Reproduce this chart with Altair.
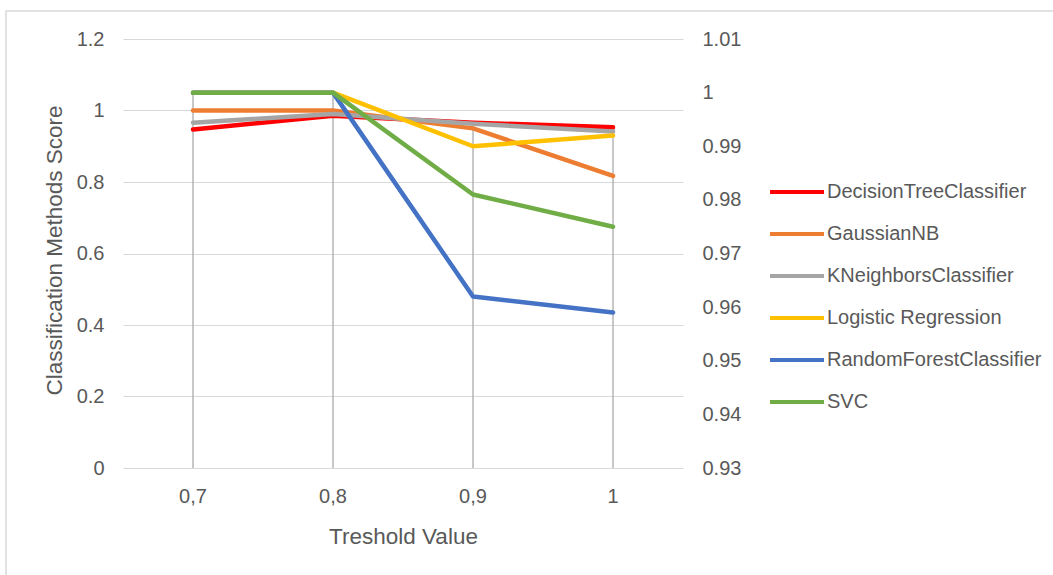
import altair as alt
import pandas as pd

# Threshold categories on the x axis
thresholds = ["0,7", "0,8", "0,9", "1"]

# Series plotted against the left (primary) axis
decision_tree = [0.947, 0.985, 0.966, 0.953]
gaussian_nb = [1.0, 1.0, 0.950, 0.817]
k_neighbors = [0.966, 0.990, 0.963, 0.941]

# Series plotted against the right (secondary) axis
logistic_regression = [1.0, 1.0, 0.990, 0.992]
random_forest = [1.0, 1.0, 0.962, 0.959]
svc = [1.0, 1.0, 0.981, 0.975]

series_names = [
    "DecisionTreeClassifier",
    "GaussianNB",
    "KNeighborsClassifier",
    "Logistic Regression",
    "RandomForestClassifier",
    "SVC",
]
series_colors = ["#FF0000", "#ED7D31", "#A5A5A5", "#FFC000", "#4472C4", "#70AD47"]

left_ticks = [0, 0.2, 0.4, 0.6, 0.8, 1.0, 1.2]
right_ticks = [0.93, 0.94, 0.95, 0.96, 0.97, 0.98, 0.99, 1.0, 1.01]

primary = {
    "DecisionTreeClassifier": decision_tree,
    "GaussianNB": gaussian_nb,
    "KNeighborsClassifier": k_neighbors,
}
secondary = {
    "Logistic Regression": logistic_regression,
    "RandomForestClassifier": random_forest,
    "SVC": svc,
}


def long_frame(series):
    rows = []
    for name, vals in series.items():
        for i, (t, v) in enumerate(zip(thresholds, vals)):
            rows.append({"threshold": t, "series": name, "value": v, "order": i})
    return pd.DataFrame(rows)


df_primary = long_frame(primary)
df_secondary = long_frame(secondary)

# Drop lines: from the highest point at each threshold down to zero,
# with secondary values expressed in primary-axis units.
lo_l, hi_l = left_ticks[0], left_ticks[-1]
lo_r, hi_r = right_ticks[0], right_ticks[-1]
tops = []
for i, t in enumerate(thresholds):
    vals = [v[i] for v in primary.values()]
    vals += [lo_l + (v[i] - lo_r) / (hi_r - lo_r) * (hi_l - lo_l) for v in secondary.values()]
    tops.append({"threshold": t, "top": max(vals), "bottom": 0})
df_drop = pd.DataFrame(tops)

FONT = "Liberation Sans"
TEXT = "#595959"
LABEL_SIZE = 20
TITLE_SIZE = 22.5

x_enc = alt.X(
    "threshold:N",
    sort=thresholds,
    scale=alt.Scale(domain=thresholds, paddingInner=0, paddingOuter=0),
    axis=alt.Axis(
        title="Treshold Value",
        labelAngle=0,
        labelFontSize=LABEL_SIZE,
        labelColor=TEXT,
        labelFont=FONT,
        labelPadding=18,
        ticks=False,
        domain=False,
        grid=False,
        titleFontSize=TITLE_SIZE,
        titleFont=FONT,
        titleColor=TEXT,
        titleFontWeight="normal",
        titlePadding=19,
    ),
)

color_enc = alt.Color(
    "series:N",
    scale=alt.Scale(domain=series_names, range=series_colors),
    legend=alt.Legend(
        title=None,
        orient="none",
        legendX=645,
        legendY=124,
        symbolType="stroke",
        symbolSize=2916,
        symbolStrokeWidth=4,
        labelFontSize=LABEL_SIZE,
        labelFont=FONT,
        labelColor=TEXT,
        labelOffset=1,
        labelLimit=400,
        rowPadding=3,
    ),
)

left_axis = alt.Axis(
    title="Classification Methods Score",
    values=left_ticks,
    format="~g",
    labelFontSize=LABEL_SIZE,
    labelFont=FONT,
    labelColor=TEXT,
    labelPadding=19,
    ticks=False,
    domain=False,
    grid=True,
    gridColor="#D9D9D9",
    gridWidth=1,
    titleFontSize=TITLE_SIZE,
    titleFont=FONT,
    titleColor=TEXT,
    titleFontWeight="normal",
    titleX=-69,
    titleY=211,
    titleBaseline="middle",
    titleAngle=-90,
)

right_axis = alt.Axis(
    title=None,
    orient="right",
    values=right_ticks,
    format="~g",
    labelFontSize=LABEL_SIZE,
    labelFont=FONT,
    labelColor=TEXT,
    labelPadding=19,
    ticks=False,
    domain=False,
    grid=False,
)

y_left = alt.Scale(domain=[lo_l, hi_l], nice=False, zero=False)
y_right = alt.Scale(domain=[lo_r, hi_r], nice=False, zero=False)

frame = (
    alt.Chart(df_drop.head(1))
    .mark_rect(filled=False, stroke="#D9D9D9", strokeWidth=1.5, clip=False)
    .encode(x=alt.value(-117), x2=alt.value(1000), y=alt.value(-28), y2=alt.value(600))
)

drop_lines = (
    alt.Chart(df_drop)
    .mark_rule(color="#ABABAB", strokeWidth=1.3)
    .encode(
        x=x_enc,
        y=alt.Y("top:Q", scale=y_left, axis=left_axis),
        y2="bottom:Q",
    )
)

line_style = dict(strokeWidth=4.5, strokeCap="round", strokeJoin="round")

lines_primary = (
    alt.Chart(df_primary)
    .mark_line(**line_style)
    .encode(
        x=x_enc,
        y=alt.Y("value:Q", scale=y_left, axis=left_axis),
        color=color_enc,
        order="order:Q",
    )
)

lines_secondary = (
    alt.Chart(df_secondary)
    .mark_line(**line_style)
    .encode(
        x=x_enc,
        y=alt.Y("value:Q", scale=y_right, axis=right_axis),
        color=color_enc,
        order="order:Q",
    )
)

left_layer = alt.layer(frame, drop_lines, lines_primary)

chart = (
    alt.layer(left_layer, lines_secondary)
    .resolve_scale(y="independent")
    .properties(
        width=560,
        height=429,
        autosize=alt.AutoSizeParams(type="none"),
        padding={"left": 123, "top": 39, "right": 370, "bottom": 107},
        background="white",
    )
    .configure_view(stroke=None)
)

chart.save("out.html", embed_options={"renderer": "svg", "actions": False})
